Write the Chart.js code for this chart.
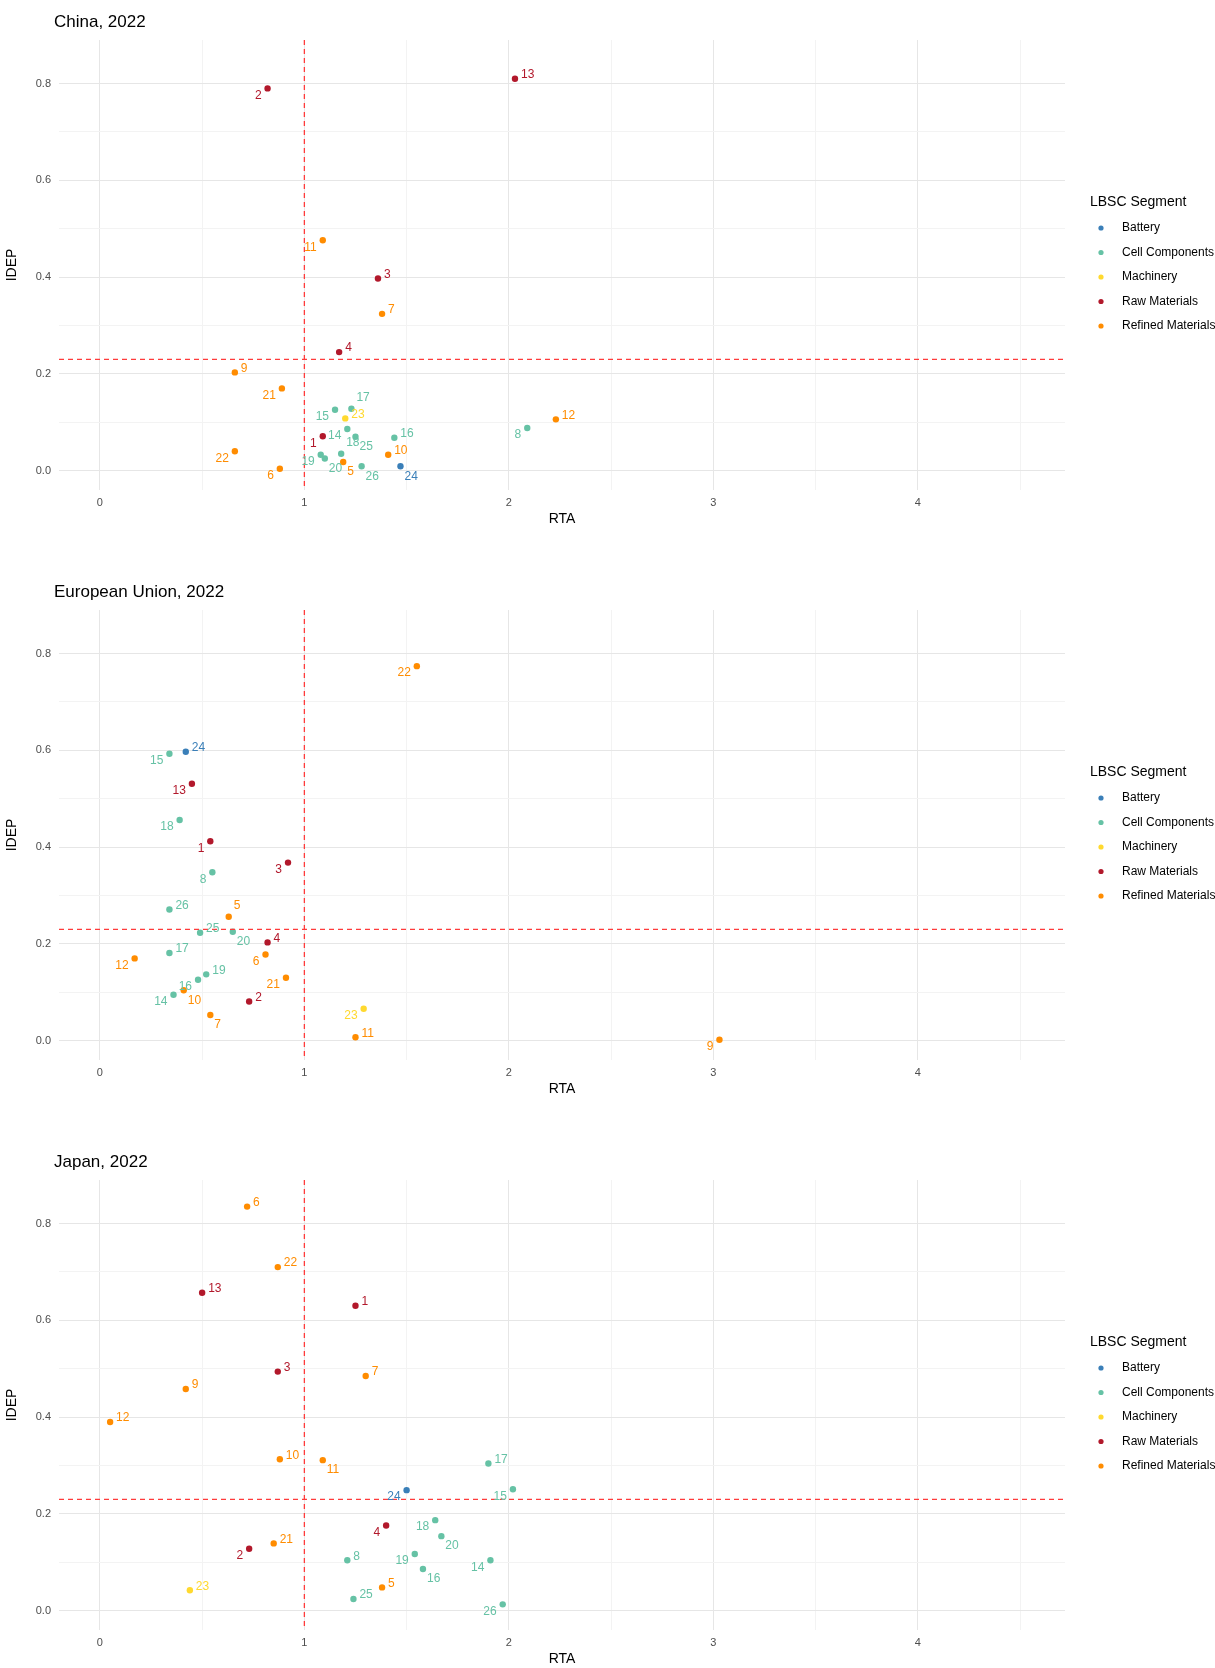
<!DOCTYPE html>
<html><head><meta charset="utf-8">
<script src="https://cdn.jsdelivr.net/npm/chart.js@4"></script>
<style>body{margin:0;background:#fff}canvas{display:block}</style>
</head><body>
<canvas id="c0" width="1215" height="570"></canvas>
<canvas id="c1" width="1215" height="570"></canvas>
<canvas id="c2" width="1215" height="570"></canvas>
<script>
const segments = ['Battery','Cell Components','Machinery','Raw Materials','Refined Materials'];
const segColors = ['#3a7fb8','#66c2a5','#ffd92f','#b2182b','#ff8c00'];
// product id -> segment index
const productIds = [1,2,3,4,5,6,7,8,9,10,11,12,13,14,15,16,17,18,19,20,21,22,23,24,25,26];
const productSeg = [3,3,3,3,4,4,4,1,4,4,4,4,3,1,1,1,1,1,1,1,4,4,2,0,1,1];
const titles = ['China, 2022','European Union, 2022','Japan, 2022'];
// RTA and IDEP per product (index = id-1)
const chinaRTA  = [1.09,0.82,1.36,1.17,1.19,0.88,1.38,2.09,0.66,1.41,1.09,2.23,2.03,1.21,1.15,1.44,1.23,1.18,1.08,1.10,0.89,0.66,1.20,1.47,1.25,1.28];
const chinaIDEP = [0.071,0.79,0.397,0.245,0.018,0.004,0.324,0.088,0.203,0.033,0.476,0.106,0.81,0.086,0.126,0.068,0.128,0.035,0.033,0.025,0.17,0.04,0.108,0.009,0.07,0.009];
const euRTA  = [0.54,0.73,0.92,0.82,0.63,0.81,0.54,0.55,3.03,0.41,1.25,0.17,0.45,0.36,0.34,0.48,0.34,0.39,0.52,0.65,0.91,1.55,1.29,0.42,0.49,0.34];
const euIDEP = [0.412,0.081,0.368,0.203,0.256,0.178,0.053,0.348,0.002,0.104,0.007,0.170,0.531,0.095,0.593,0.126,0.181,0.456,0.137,0.225,0.130,0.774,0.066,0.597,0.223,0.271];
const jpRTA  = [1.25,0.73,0.87,1.40,1.38,0.72,1.30,1.21,0.42,0.88,1.09,0.05,0.50,1.91,2.02,1.58,1.90,1.64,1.54,1.67,0.85,0.87,0.44,1.50,1.24,1.97];
const jpIDEP = [0.63,0.128,0.494,0.176,0.048,0.835,0.485,0.104,0.458,0.313,0.311,0.39,0.657,0.104,0.251,0.086,0.304,0.187,0.117,0.154,0.139,0.71,0.042,0.249,0.024,0.013];
const rtaSets = [chinaRTA, euRTA, jpRTA];
const idepSets = [chinaIDEP, euIDEP, jpIDEP];
const xTicks = [0,1,2,3,4];
const yTicks = [0,0.2,0.4,0.6,0.8];
const rtaCut = 1, idepCut = 0.23;
// label placement: r=right-up, l=left-down, b=below-right, u=above
const labelDir = [
 {1:'l',2:'l',11:'l',21:'l',15:'l',14:'l',19:'l',22:'l',6:'l',8:'l',20:'b',5:'b',26:'b',24:'b',18:'u',25:'b',17:'u'},
 {2:'r',22:'l',15:'l',13:'l',18:'l',1:'l',3:'l',8:'l',5:'u',6:'l',12:'l',16:'l',21:'l',14:'l',23:'l',9:'l',20:'b',7:'b',10:'b',25:'r'},
 {4:'l',2:'l',11:'b',24:'l',15:'l',14:'l',26:'l',25:'r',16:'b',19:'l',18:'l',20:'b'}
];

const overlay = {
  id:'overlay',
  afterDatasetsDraw(chart, args, opts){
    const {ctx, scales:{x,y}, chartArea:a} = chart;
    ctx.save();
    ctx.strokeStyle='#ff3b3b'; ctx.lineWidth=1.3; ctx.setLineDash([5,4]);
    ctx.beginPath(); ctx.moveTo(x.getPixelForValue(rtaCut),a.top); ctx.lineTo(x.getPixelForValue(rtaCut),a.bottom);
    ctx.moveTo(a.left,y.getPixelForValue(idepCut)); ctx.lineTo(a.right,y.getPixelForValue(idepCut)); ctx.stroke();
    ctx.setLineDash([]);
    const k = opts.k;
    ctx.font='12px "Liberation Sans", Arial'; ctx.textBaseline='middle';
    productIds.forEach((id,i)=>{
      const px=x.getPixelForValue(rtaSets[k][i]), py=y.getPixelForValue(idepSets[k][i]);
      const d=labelDir[k][id]||'r';
      ctx.fillStyle=segColors[productSeg[i]];
      let tx,ty;
      if(d==='r'){ctx.textAlign='left';tx=px+6;ty=py-4;}
      else if(d==='l'){ctx.textAlign='right';tx=px-6;ty=py+7;}
      else if(d==='b'){ctx.textAlign='left';tx=px+4;ty=py+10;}
      else {ctx.textAlign='left';tx=px+5;ty=py-11;}
      ctx.fillText(String(id),tx,ty);
    });
    ctx.fillStyle='#000'; ctx.textAlign='left'; ctx.textBaseline='alphabetic';
    ctx.font='17px "Liberation Sans", Arial';
    ctx.fillText(titles[k],54,27);
    // legend
    ctx.font='14px "Liberation Sans", Arial';
    ctx.fillText('LBSC Segment',1090,206);
    ctx.font='12px "Liberation Sans", Arial'; ctx.textBaseline='middle';
    segments.forEach((s,j)=>{
      const yy=228+j*24.5;
      ctx.fillStyle=segColors[j]; ctx.beginPath(); ctx.arc(1101,yy,2.6,0,Math.PI*2); ctx.fill();
      ctx.fillStyle='#000'; ctx.fillText(s,1122,yy);
    });
    ctx.restore();
  }
};

function gridCol(major){return c=>{const v=c.tick.value;return Math.abs(v/major-Math.round(v/major))<1e-6?'#e6e6e6':'#f3f3f3';};}

for(let k=0;k<3;k++){
  const data = productIds.map((id,i)=>({x:rtaSets[k][i], y:idepSets[k][i]}));
  new Chart(document.getElementById('c'+k),{
    type:'scatter',
    data:{datasets:[{data, pointRadius:3.2, pointHoverRadius:3.2, borderWidth:0,
      backgroundColor: productIds.map((id,i)=>segColors[productSeg[i]])}]},
    options:{responsive:false, animation:false,
      layout:{padding:{top:40,right:150,bottom:38,left:0}},
      plugins:{legend:{display:false}, tooltip:{enabled:false}, overlay:{k}},
      scales:{
        x:{type:'linear',min:-0.2,max:4.72,
          afterBuildTicks(s){const t=[];for(let v=0;v<=4.5+1e-9;v+=0.5)t.push({value:Math.round(v*10)/10});s.ticks=t;},
          afterFit(s){s.height=42;},
          ticks:{color:'#4d4d4d',font:{size:11,family:'Liberation Sans'},padding:6,maxRotation:0,
            callback:v=>xTicks.includes(v)?String(v):''},
          grid:{color:gridCol(1),drawTicks:false}, border:{display:false},
          title:{display:true,text:'RTA',color:'#000',font:{size:14,family:'Liberation Sans'},padding:{top:0}}},
        y:{type:'linear',min:-0.04,max:0.89,
          afterBuildTicks(s){const t=[];for(let v=0;v<=0.8+1e-9;v+=0.1)t.push({value:Math.round(v*10)/10});s.ticks=t;},
          afterFit(s){s.width=59;},
          ticks:{color:'#4d4d4d',font:{size:11,family:'Liberation Sans'},padding:8,
            callback:v=>yTicks.some(t=>Math.abs(t-v)<1e-6)?v.toFixed(1):''},
          grid:{color:gridCol(0.2),drawTicks:false}, border:{display:false},
          title:{display:true,text:'IDEP',color:'#000',font:{size:14,family:'Liberation Sans'},padding:{bottom:4}}}
      }
    },
    plugins:[overlay]
  });
}
</script>
</body></html>
